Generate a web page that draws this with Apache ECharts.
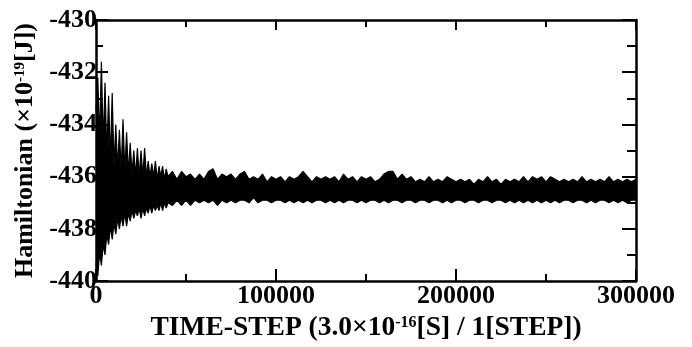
<!DOCTYPE html>
<html>
<head>
<meta charset="utf-8">
<script src="https://cdn.jsdelivr.net/npm/echarts@6/dist/echarts.min.js"></script>
<style>html,body{margin:0;padding:0;background:#fff}#c{width:692px;height:347px}</style>
</head>
<body>
<div id="c"></div>
<script>
// time steps at which the envelope of the oscillating Hamiltonian is read
var steps = [0,1000,2000,3000,4000,5000,6000,7000,8000,9000,10000,11000,12000,13000,14000,15000,16000,17000,18000,19000,20000,21000,22000,23000,24000,25000,26000,27000,28000,29000,30000,31000,32000,33000,34000,35000,36000,37000,38000,39000,40000,
42500,45000,47500,50000,52500,55000,57500,60000,62500,65000,67500,70000,72500,75000,77500,80000,82500,85000,87500,90000,92500,95000,97500,100000,
102500,105000,107500,110000,112500,115000,117500,120000,122500,125000,127500,130000,132500,135000,137500,140000,142500,145000,147500,150000,
152500,155000,157500,160000,162500,165000,167500,170000,172500,175000,177500,180000,182500,185000,187500,190000,192500,195000,197500,200000,
202500,205000,207500,210000,212500,215000,217500,220000,222500,225000,227500,230000,232500,235000,237500,240000,242500,245000,247500,250000,
252500,255000,257500,260000,262500,265000,267500,270000,272500,275000,277500,280000,282500,285000,287500,290000,292500,295000,297500,300000];
// upper envelope (x10^-19 J)
var upper = [-433.5,-432.2,-434.6,-431.6,-434.8,-432.4,-435.2,-432.9,-435.4,-432.8,-435.6,-434.0,-435.7,-434.2,-435.8,-433.8,-435.8,-434.3,-435.9,-434.7,-435.9,-435.0,-436.0,-434.9,-436.0,-435.0,-436.0,-434.9,-436.0,-435.4,-436.0,-435.5,-436.0,-435.4,-436.1,-435.6,-436.0,-435.6,-436.1,-435.7,-436.0,
-435.8,-436.1,-435.8,-436.0,-435.9,-436.1,-435.9,-436.1,-435.8,-435.7,-436.1,-435.9,-436.0,-435.9,-436.1,-435.9,-435.8,-436.1,-436.0,-436.1,-435.9,-436.2,-436.0,-436.1,
-436.0,-436.2,-436.0,-436.1,-436.0,-435.8,-436.0,-436.2,-436.0,-436.1,-436.0,-436.1,-436.0,-436.2,-435.9,-436.1,-436.0,-436.2,-436.0,-436.1,
-436.0,-436.2,-436.1,-435.9,-435.8,-435.8,-436.1,-435.9,-436.1,-436.0,-436.2,-436.1,-436.2,-436.0,-436.2,-436.1,-436.2,-436.0,-436.1,-436.2,
-436.1,-436.2,-436.1,-436.3,-436.1,-436.2,-436.0,-436.2,-436.1,-436.3,-436.1,-436.2,-436.1,-436.2,-436.0,-436.2,-436.0,-436.1,-436.0,-436.2,
-436.0,-436.1,-436.2,-436.1,-436.2,-436.1,-436.2,-436.0,-436.2,-436.1,-436.2,-436.1,-436.2,-436.0,-436.2,-436.1,-436.2,-436.1,-436.2,-436.1];
// lower envelope (x10^-19 J)
var lower = [-439.3,-439.8,-438.9,-439.4,-438.6,-439.0,-438.2,-438.6,-437.9,-438.4,-437.8,-438.2,-437.6,-438.0,-437.5,-437.9,-437.4,-437.9,-437.4,-437.7,-437.3,-437.6,-437.3,-437.5,-437.2,-437.6,-437.2,-437.5,-437.2,-437.4,-437.1,-437.4,-437.1,-437.3,-437.1,-437.3,-437.0,-437.3,-437.0,-437.2,-437.0,
-437.1,-436.9,-437.1,-436.9,-437.1,-436.9,-437.0,-436.9,-437.0,-436.9,-437.1,-436.9,-437.0,-436.9,-437.0,-436.9,-436.9,-437.0,-436.8,-437.0,-436.9,-436.9,-437.0,-436.9,
-436.9,-437.0,-436.9,-437.0,-436.9,-437.0,-436.9,-437.0,-436.9,-436.9,-437.0,-436.9,-437.0,-436.9,-437.0,-436.9,-436.9,-437.0,-436.9,-437.0,
-436.9,-436.9,-437.0,-436.9,-437.0,-436.9,-436.9,-437.0,-436.9,-436.9,-437.0,-436.9,-436.9,-437.0,-436.9,-436.9,-437.0,-436.9,-437.0,-436.9,
-436.9,-437.0,-436.9,-436.9,-437.0,-436.9,-436.9,-437.0,-436.9,-436.9,-437.0,-436.9,-437.0,-436.9,-437.0,-436.9,-437.0,-436.9,-437.0,-436.9,
-437.0,-436.9,-437.0,-436.9,-436.9,-437.0,-436.9,-436.9,-437.0,-436.9,-437.0,-436.9,-436.9,-437.0,-436.9,-437.0,-436.9,-437.0,-436.9,-436.9];

var yTicks = [-440,-438,-436,-434,-432,-430];
var xTicks = [0,100000,200000,300000];

var upperData = steps.map(function(s,i){return [s, upper[i]];});
var lowerData = steps.map(function(s,i){return [s, lower[i]];});

var FONT = 'Liberation Serif';
var axisCommon = {
  z:10,
  axisLine:{show:true,onZero:false,lineStyle:{color:'#000',width:2.5}},
  axisTick:{show:true,inside:true,length:12,lineStyle:{color:'#000',width:2}},
  minorTick:{show:true,splitNumber:2,length:7,lineStyle:{color:'#000',width:2}},
  splitLine:{show:false}
};
function merge(a,b){var o={};for(var k in a)o[k]=a[k];for(var k2 in b)o[k2]=b[k2];return o;}

var chart = echarts.init(document.getElementById('c'), null, {renderer:'canvas'});
chart.setOption({
  backgroundColor:'#fff',
  animation:false,
  grid:{left:96,right:56,top:20,bottom:64},
  xAxis:[
    merge(axisCommon,{type:'value',position:'bottom',min:0,max:300000,interval:100000,
      axisLabel:{show:true,margin:2,color:'#000',fontFamily:FONT,fontWeight:'bold',fontSize:26,
        formatter:function(v){return xTicks.indexOf(v)>=0?String(v):'';}},
      name:'{a|TIME-STEP (3.0\u00d710}{s|-16}{a|[S] / 1[STEP])}',
      nameLocation:'middle',nameGap:32,
      nameTextStyle:{color:'#000',rich:{
        a:{fontFamily:FONT,fontWeight:'bold',fontSize:27.5,color:'#000'},
        s:{fontFamily:FONT,fontWeight:'bold',fontSize:16,color:'#000',padding:[0,0,11,0]}}}
    }),
    merge(axisCommon,{type:'value',position:'top',min:0,max:300000,interval:100000,
      axisTick:{show:true,inside:true,length:10,lineStyle:{color:'#000',width:2}},
      axisLabel:{show:false}})
  ],
  yAxis:[
    merge(axisCommon,{type:'value',position:'left',min:-440,max:-430,interval:2,
      axisLabel:{show:true,margin:-1,color:'#000',fontFamily:FONT,fontWeight:'bold',fontSize:26,
        formatter:function(v){return yTicks.indexOf(v)>=0?String(v):'';}},
      name:'{a|Hamiltonian (\u00d710}{s|-19}{a|[J])}',
      nameLocation:'middle',nameGap:47,nameRotate:90,
      nameTextStyle:{color:'#000',rich:{
        a:{fontFamily:FONT,fontWeight:'bold',fontSize:26,color:'#000'},
        s:{fontFamily:FONT,fontWeight:'bold',fontSize:15,color:'#000',padding:[0,0,11,0]}}}
    }),
    merge(axisCommon,{type:'value',position:'right',min:-440,max:-430,interval:2,
      axisTick:{show:true,inside:true,length:14,lineStyle:{color:'#000',width:2}},
      minorTick:{show:true,splitNumber:2,length:9,lineStyle:{color:'#000',width:2}},
      axisLabel:{show:false}})
  ],
  series:[
    {type:'line',name:'upper',data:upperData,showSymbol:false,z:2,
      lineStyle:{color:'#000',width:1.2},areaStyle:{color:'#000',opacity:1,origin:'start'}},
    {type:'line',name:'lower',data:lowerData,showSymbol:false,z:3,
      lineStyle:{color:'#000',width:1.2},areaStyle:{color:'#fff',opacity:1,origin:'start'}}
  ]
});
</script>
</body>
</html>
